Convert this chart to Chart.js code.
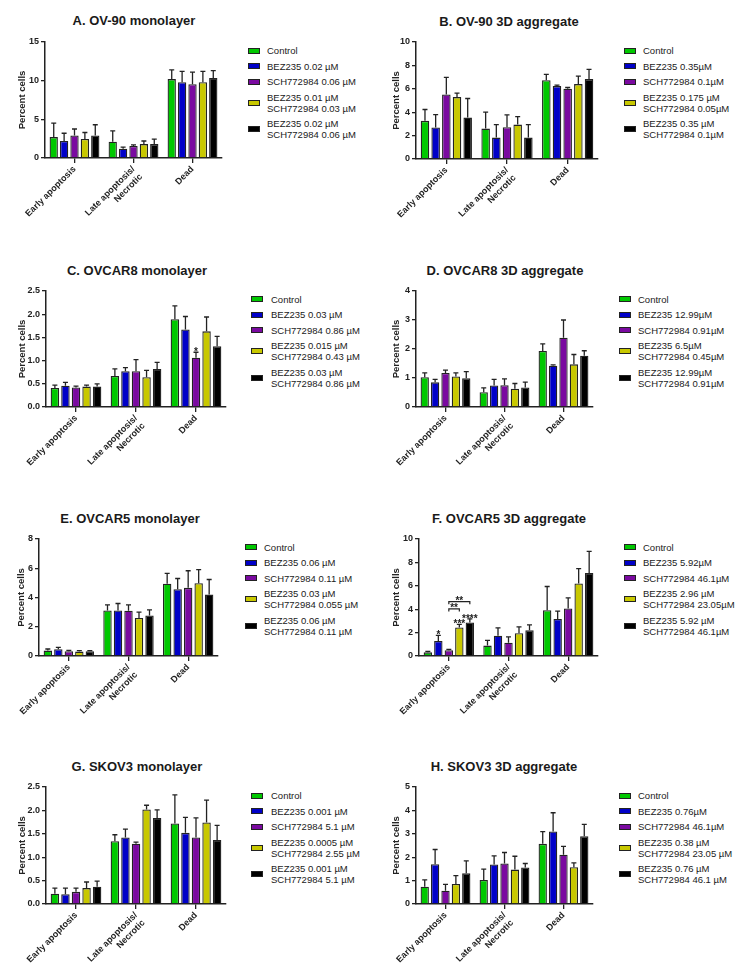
<!DOCTYPE html>
<html>
<head>
<meta charset="utf-8">
<script src="https://cdn.jsdelivr.net/npm/chart.js@4.4.1/dist/chart.umd.min.js"></script>
<style>
  body { margin: 0; background: #fff; }
  #fig { position: relative; width: 752px; height: 980px; font-family: 'Liberation Sans', Arial, sans-serif; color: #1a1a1a; overflow: hidden; }
  .ttl { position: absolute; width: 300px; text-align: center; font-weight: bold; font-size: 13px; line-height: 16px; }
  .lg { position: absolute; font-size: 9.5px; line-height: 11px; white-space: nowrap; }
  .lg-item { position: relative; margin-bottom: 4.5px; }
  .lg-box { position: absolute; left: 0; top: 50%; width: 12px; height: 6px; margin-top: -3px; box-sizing: border-box; border: 1.5px solid #222; }
  canvas { position: absolute; }
</style>
</head>
<body>
<div id="fig"></div>
<script>
// categories shared by every panel
const categories = ['Early apoptosis', ['Late apoptosis/', 'Necrotic'], 'Dead'];
const seriesColors = ['#00c800', '#0000c8', '#7a0aa0', '#c8c800', '#000000'];

// rows = Control, BEZ235, SCH772984, combo half, combo full; cols = categories
const ov90MonoMean = [[2.7, 2.1, 10.2], [2.2, 1.2, 9.8], [2.9, 1.55, 9.55], [2.45, 1.8, 9.8], [2.9, 1.8, 10.35]];
const ov90MonoSem  = [[1.8, 1.4, 1.2], [1.0, 0.2, 1.4], [0.85, 0.15, 1.55], [0.85, 0.4, 1.4], [1.4, 0.65, 0.95]];
const ov90MonoTicks = [0, 5, 10, 15];
const ov90MonoLegend = ['Control', 'BEZ235 0.02 µM', 'SCH772984 0.06 µM', ['BEZ235 0.01 µM', 'SCH772984 0.03 µM'], ['BEZ235 0.02 µM', 'SCH772984 0.06 µM']];

const ov90AggMean = [[3.26, 2.6, 6.74], [2.69, 1.83, 6.23], [5.51, 2.71, 6.0], [5.29, 2.94, 6.4], [3.54, 1.83, 6.83]];
const ov90AggSem  = [[0.97, 1.4, 0.49], [1.11, 1.11, 0.08], [1.46, 1.06, 0.11], [0.34, 0.69, 0.69], [1.63, 1.11, 0.83]];
const ov90AggTicks = [0, 2, 4, 6, 8, 10];
const ov90AggLegend = ['Control', 'BEZ235 0.35µM', 'SCH772984 0.1µM', ['BEZ235 0.175 µM', 'SCH772984 0.05µM'], ['BEZ235 0.35 µM', 'SCH772984 0.1µM']];

const ovcar8MonoMean = [[0.41, 0.67, 1.89], [0.46, 0.77, 1.67], [0.42, 0.77, 1.06], [0.44, 0.64, 1.63], [0.44, 0.82, 1.31]];
const ovcar8MonoSem  = [[0.06, 0.15, 0.29], [0.07, 0.08, 0.28], [0.03, 0.25, 0.12], [0.03, 0.15, 0.31], [0.06, 0.14, 0.21]];
const ovcar8MonoTicks = [0, 0.5, 1.0, 1.5, 2.0, 2.5];
const ovcar8MonoLegend = ['Control', 'BEZ235 0.03 µM', 'SCH772984 0.86 µM', ['BEZ235 0.015 µM', 'SCH772984 0.43 µM'], ['BEZ235 0.03 µM', 'SCH772984 0.86 µM']];
const ovcar8MonoStars = [[2, 2, '*']];

const ovcar8AggMean = [[1.03, 0.51, 1.93], [0.85, 0.74, 1.42], [1.17, 0.75, 2.39], [1.05, 0.63, 1.47], [0.99, 0.67, 1.77]];
const ovcar8AggSem  = [[0.15, 0.15, 0.25], [0.1, 0.21, 0.03], [0.1, 0.22, 0.61], [0.13, 0.18, 0.34], [0.23, 0.19, 0.17]];
const ovcar8AggTicks = [0, 1, 2, 3, 4];
const ovcar8AggLegend = ['Control', 'BEZ235 12.99µM', 'SCH772984 0.91µM', ['BEZ235 6.5µM', 'SCH772984 0.45µM'], ['BEZ235 12.99µM', 'SCH772984 0.91µM']];

const ovcar5MonoMean = [[0.37, 3.11, 4.94], [0.46, 3.11, 4.57], [0.32, 3.09, 4.66], [0.3, 2.6, 4.98], [0.32, 2.77, 4.2]];
const ovcar5MonoSem  = [[0.11, 0.39, 0.71], [0.13, 0.48, 0.73], [0.07, 0.41, 1.17], [0.07, 0.4, 0.92], [0.05, 0.38, 1.03]];
const ovcar5MonoTicks = [0, 2, 4, 6, 8];
const ovcar5MonoLegend = ['Control', 'BEZ235 0.06 µM', 'SCH772984 0.11 µM', ['BEZ235 0.03 µM', 'SCH772984 0.055 µM'], ['BEZ235 0.06 µM', 'SCH772984 0.11 µM']];

const ovcar5AggMean = [[0.31, 0.89, 3.91], [1.29, 1.74, 3.17], [0.49, 1.14, 4.06], [2.43, 1.94, 6.2], [2.86, 2.2, 7.09]];
const ovcar5AggSem  = [[0.09, 0.45, 2.03], [0.48, 0.66, 0.66], [0.08, 0.49, 0.91], [0.28, 0.55, 1.26], [0.31, 0.46, 1.85]];
const ovcar5AggTicks = [0, 2, 4, 6, 8, 10];
const ovcar5AggLegend = ['Control', 'BEZ235 5.92µM', 'SCH772984 46.1µM', ['BEZ235 2.96 µM', 'SCH772984 23.05µM'], ['BEZ235 5.92 µM', 'SCH772984 46.1µM']];
const ovcar5AggStars = [[1, 0, '*'], [3, 0, '***'], [4, 0, '****']];
// [from series, to series, category, bracket level, text]
const ovcar5AggBrackets = [[2, 3, 0, 4.02, '**'], [2, 4, 0, 4.64, '**']];

const skov3MonoMean = [[0.22, 1.34, 1.72], [0.21, 1.42, 1.52], [0.26, 1.29, 1.42], [0.34, 2.02, 1.74], [0.37, 1.84, 1.37]];
const skov3MonoSem  = [[0.12, 0.14, 0.61], [0.13, 0.18, 0.33], [0.08, 0.03, 0.42], [0.13, 0.09, 0.48], [0.12, 0.17, 0.31]];
const skov3MonoTicks = [0, 0.5, 1.0, 1.5, 2.0, 2.5];
const skov3MonoLegend = ['Control', 'BEZ235 0.001 µM', 'SCH772984 5.1 µM', ['BEZ235 0.0005 µM', 'SCH772984 2.55 µM'], ['BEZ235 0.001 µM', 'SCH772984 5.1 µM']];

const skov3AggMean = [[0.74, 1.03, 2.57], [1.7, 1.69, 3.1], [0.57, 1.73, 2.11], [0.86, 1.47, 1.57], [1.31, 1.56, 2.9]];
const skov3AggSem  = [[0.29, 0.46, 0.52], [0.63, 0.37, 0.8], [0.27, 0.47, 0.35], [0.35, 0.57, 0.19], [0.53, 0.17, 0.5]];
const skov3AggTicks = [0, 1, 2, 3, 4, 5];
const skov3AggLegend = ['Control', 'BEZ235 0.76µM', 'SCH772984 46.1µM', ['BEZ235 0.38 µM', 'SCH772984 23.05 µM'], ['BEZ235 0.76 µM', 'SCH772984 46.1 µM']];

// page layout of each panel (pixels)
const panels = [
  { title: 'A. OV-90 monolayer', mean: ov90MonoMean, sem: ov90MonoSem, ticks: ov90MonoTicks, legend: ov90MonoLegend, dec: 0,
    cl: 0, ax: 45, t: 42, b: 158, r: 222, titleX: 134, titleY: 21, yTitleX: 22.7, lgBox: 248, lgText: 267, lgY: 50.7 },
  { title: 'B. OV-90 3D aggregate', mean: ov90AggMean, sem: ov90AggSem, ticks: ov90AggTicks, legend: ov90AggLegend, dec: 0,
    cl: 376, ax: 416, t: 42, b: 159, r: 598, titleX: 509, titleY: 21.5, yTitleX: 396.7, lgBox: 624, lgText: 643, lgY: 50.7 },
  { title: 'C. OVCAR8 monolayer', mean: ovcar8MonoMean, sem: ovcar8MonoSem, ticks: ovcar8MonoTicks, legend: ovcar8MonoLegend, dec: 1,
    stars: ovcar8MonoStars,
    cl: 0, ax: 46, t: 291, b: 407, r: 226, titleX: 137, titleY: 271, yTitleX: 22.7, lgBox: 251, lgText: 271, lgY: 299 },
  { title: 'D. OVCAR8 3D aggregate', mean: ovcar8AggMean, sem: ovcar8AggSem, ticks: ovcar8AggTicks, legend: ovcar8AggLegend, dec: 0,
    cl: 376, ax: 416, t: 291, b: 407, r: 593, titleX: 505, titleY: 271, yTitleX: 396.7, lgBox: 619, lgText: 638, lgY: 299 },
  { title: 'E. OVCAR5 monolayer', mean: ovcar5MonoMean, sem: ovcar5MonoSem, ticks: ovcar5MonoTicks, legend: ovcar5MonoLegend, dec: 0,
    cl: 0, ax: 39, t: 539, b: 656, r: 218, titleX: 130, titleY: 519, yTitleX: 21.7, lgBox: 245, lgText: 264, lgY: 547.3 },
  { title: 'F. OVCAR5 3D aggregate', mean: ovcar5AggMean, sem: ovcar5AggSem, ticks: ovcar5AggTicks, legend: ovcar5AggLegend, dec: 0,
    stars: ovcar5AggStars, brackets: ovcar5AggBrackets,
    cl: 376, ax: 419, t: 539, b: 656, r: 598, titleX: 509, titleY: 519, yTitleX: 396.7, lgBox: 624, lgText: 643, lgY: 547.3 },
  { title: 'G. SKOV3 monolayer', mean: skov3MonoMean, sem: skov3MonoSem, ticks: skov3MonoTicks, legend: skov3MonoLegend, dec: 1,
    cl: 0, ax: 46, t: 787, b: 904, r: 226, titleX: 137, titleY: 767.3, yTitleX: 22.7, lgBox: 251, lgText: 271, lgY: 795.7 },
  { title: 'H. SKOV3 3D aggregate', mean: skov3AggMean, sem: skov3AggSem, ticks: skov3AggTicks, legend: skov3AggLegend, dec: 0,
    cl: 376, ax: 416, t: 787, b: 904, r: 593, titleX: 504, titleY: 767.3, yTitleX: 396.7, lgBox: 619, lgText: 638, lgY: 795.7 }
];

const padTop = 10, padRight = 12, xAxisH = 70;
const ink = '#222';
Chart.defaults.font.family = "'Liberation Sans', Arial, sans-serif";

// upper error bar with cap
const errorBars = {
  id: 'errorBars',
  afterDatasetsDraw(chart) {
    const { ctx, scales: { y } } = chart;
    ctx.save();
    ctx.strokeStyle = ink;
    ctx.lineWidth = 1.3;
    chart.data.datasets.forEach((ds, i) => {
      chart.getDatasetMeta(i).data.forEach((bar, j) => {
        const top = y.getPixelForValue(ds.data[j] + ds.sem[j]);
        ctx.beginPath();
        ctx.moveTo(bar.x, bar.y);
        ctx.lineTo(bar.x, top);
        ctx.moveTo(bar.x - 2.5, top);
        ctx.lineTo(bar.x + 2.5, top);
        ctx.stroke();
      });
    });
    ctx.restore();
  }
};

function sigPlugin(p) {
  return {
    id: 'sigMarks',
    afterDatasetsDraw(chart) {
      const { ctx, scales: { y } } = chart;
      const barAt = (s, c) => chart.getDatasetMeta(s).data[c];
      ctx.save();
      ctx.fillStyle = ink;
      ctx.strokeStyle = ink;
      ctx.lineWidth = 1.2;
      ctx.font = "bold 10px 'Liberation Sans', Arial, sans-serif";
      ctx.textAlign = 'center';
      ctx.textBaseline = 'alphabetic';
      (p.stars || []).forEach(([s, c, txt]) => {
        const ds = chart.data.datasets[s];
        const top = y.getPixelForValue(ds.data[c] + ds.sem[c]);
        ctx.fillText(txt, barAt(s, c).x, top + 3);
      });
      (p.brackets || []).forEach(([s1, s2, c, v, txt]) => {
        const x1 = barAt(s1, c).x, x2 = barAt(s2, c).x;
        const yy = y.getPixelForValue(v);
        ctx.beginPath();
        ctx.moveTo(x1, yy + 2.5);
        ctx.lineTo(x1, yy);
        ctx.lineTo(x2, yy);
        ctx.lineTo(x2, yy + 2.5);
        ctx.stroke();
        ctx.fillText(txt, (x1 + x2) / 2, yy + 2);
      });
      ctx.restore();
    }
  };
}

const fig = document.getElementById('fig');

panels.forEach(p => {
  const ttl = document.createElement('div');
  ttl.className = 'ttl';
  ttl.textContent = p.title;
  ttl.style.left = (p.titleX - 150) + 'px';
  ttl.style.top = (p.titleY - 8) + 'px';
  fig.appendChild(ttl);

  const lg = document.createElement('div');
  lg.className = 'lg';
  lg.style.left = p.lgBox + 'px';
  lg.style.top = (p.lgY - 5.5) + 'px';
  p.legend.forEach((lab, i) => {
    const item = document.createElement('div');
    item.className = 'lg-item';
    item.style.paddingLeft = (p.lgText - p.lgBox) + 'px';
    const box = document.createElement('div');
    box.className = 'lg-box';
    box.style.background = seriesColors[i];
    item.appendChild(box);
    const lines = Array.isArray(lab) ? lab : [lab];
    lines.forEach(l => {
      const d = document.createElement('div');
      d.textContent = l;
      item.appendChild(d);
    });
    lg.appendChild(item);
  });
  fig.appendChild(lg);

  const w = p.r + padRight - p.cl;
  const h = (p.b - p.t) + padTop + xAxisH;
  const cv = document.createElement('canvas');
  cv.width = w;
  cv.height = h;
  cv.style.left = p.cl + 'px';
  cv.style.top = (p.t - padTop) + 'px';
  cv.style.width = w + 'px';
  cv.style.height = h + 'px';
  fig.appendChild(cv);

  const ticks = p.ticks;
  new Chart(cv, {
    type: 'bar',
    data: {
      labels: categories,
      datasets: seriesColors.map((col, i) => ({
        label: Array.isArray(p.legend[i]) ? p.legend[i].join(' ') : p.legend[i],
        data: p.mean[i],
        sem: p.sem[i],
        backgroundColor: col,
        borderColor: ink,
        borderWidth: 1.3,
        categoryPercentage: 0.88,
        barPercentage: 0.8
      }))
    },
    options: {
      responsive: false,
      animation: false,
      layout: { padding: { top: padTop, right: padRight, left: 0, bottom: 0 } },
      plugins: {
        legend: { display: false },
        tooltip: { enabled: false },
        title: { display: false }
      },
      scales: {
        x: {
          grid: { drawOnChartArea: false, offset: false, tickLength: 5, color: ink, lineWidth: 1.3 },
          border: { color: ink, width: 1.5 },
          ticks: {
            color: ink,
            font: { weight: 'bold', size: 9 },
            minRotation: 45,
            maxRotation: 45,
            autoSkip: false,
            padding: 1
          },
          afterFit: s => { s.height = xAxisH; }
        },
        y: {
          min: ticks[0],
          max: ticks[ticks.length - 1],
          grid: { drawOnChartArea: false, tickLength: 4, color: ink, lineWidth: 1.3 },
          border: { color: ink, width: 1.5 },
          ticks: {
            stepSize: ticks[1] - ticks[0],
            color: ink,
            font: { weight: 'bold', size: 9 },
            padding: 2,
            callback: v => Number(v).toFixed(p.dec)
          },
          title: {
            display: true,
            text: 'Percent cells',
            color: ink,
            font: { weight: 'bold', size: 9.5 },
            padding: { top: p.yTitleX - p.cl - 5.7, bottom: 0 }
          },
          afterFit: s => { s.width = p.ax - p.cl; }
        }
      }
    },
    plugins: [errorBars, sigPlugin(p)]
  });
});
</script>
</body>
</html>
